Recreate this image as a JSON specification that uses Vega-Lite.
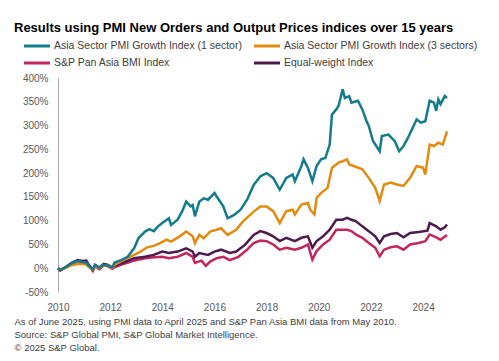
{
  "$schema": "https://vega.github.io/schema/vega-lite/v6.json",
  "width": 389,
  "height": 214,
  "autosize": {"type": "none"},
  "padding": {"left": 58, "top": 78, "right": 52, "bottom": 69},
  "background": "white",
  "config": {
    "view": {"stroke": null},
    "font": "Liberation Sans"
  },
  "title": {
    "text": "Results using PMI New Orders and Output Prices indices over 15 years",
    "anchor": "start",
    "frame": "group",
    "dx": -44,
    "fontSize": 13,
    "fontWeight": "bold",
    "color": "#000000",
    "offset": 3
  },
  "datasets": {
    "a1": [
      {"date": "2010-05-01", "value": 0}, {"date": "2010-06-01", "value": -4}, {"date": "2010-09-01", "value": 3}, {"date": "2010-11-01", "value": 10},
      {"date": "2011-02-01", "value": 15}, {"date": "2011-04-01", "value": 13}, {"date": "2011-06-01", "value": 12}, {"date": "2011-07-01", "value": 6},
      {"date": "2011-09-01", "value": -2}, {"date": "2011-10-01", "value": 6}, {"date": "2011-12-01", "value": 2}, {"date": "2012-02-01", "value": 7},
      {"date": "2012-04-01", "value": 5}, {"date": "2012-06-01", "value": 2}, {"date": "2012-07-01", "value": 12}, {"date": "2012-10-01", "value": 17},
      {"date": "2013-01-01", "value": 24}, {"date": "2013-04-01", "value": 42}, {"date": "2013-06-01", "value": 63}, {"date": "2013-09-01", "value": 77},
      {"date": "2013-11-01", "value": 82}, {"date": "2014-01-01", "value": 78}, {"date": "2014-03-01", "value": 88}, {"date": "2014-05-01", "value": 95},
      {"date": "2014-08-01", "value": 105}, {"date": "2014-09-01", "value": 91}, {"date": "2014-12-01", "value": 102}, {"date": "2015-02-01", "value": 119},
      {"date": "2015-04-01", "value": 140}, {"date": "2015-06-01", "value": 130}, {"date": "2015-07-01", "value": 133}, {"date": "2015-08-01", "value": 109},
      {"date": "2015-10-01", "value": 140}, {"date": "2015-12-01", "value": 147}, {"date": "2016-02-01", "value": 144}, {"date": "2016-05-01", "value": 158},
      {"date": "2016-07-01", "value": 144}, {"date": "2016-09-01", "value": 130}, {"date": "2016-11-01", "value": 105}, {"date": "2017-02-01", "value": 112},
      {"date": "2017-05-01", "value": 123}, {"date": "2017-08-01", "value": 144}, {"date": "2017-11-01", "value": 175}, {"date": "2018-02-01", "value": 193},
      {"date": "2018-05-01", "value": 200}, {"date": "2018-08-01", "value": 190}, {"date": "2018-11-01", "value": 165}, {"date": "2019-02-01", "value": 190},
      {"date": "2019-05-01", "value": 197}, {"date": "2019-06-01", "value": 183}, {"date": "2019-09-01", "value": 215}, {"date": "2019-10-01", "value": 229},
      {"date": "2019-12-01", "value": 211}, {"date": "2020-02-01", "value": 183}, {"date": "2020-04-01", "value": 215}, {"date": "2020-06-01", "value": 229},
      {"date": "2020-08-01", "value": 232}, {"date": "2020-10-01", "value": 260}, {"date": "2020-11-01", "value": 323}, {"date": "2021-01-01", "value": 334},
      {"date": "2021-02-01", "value": 341}, {"date": "2021-04-01", "value": 376}, {"date": "2021-05-01", "value": 358}, {"date": "2021-07-01", "value": 362},
      {"date": "2021-08-01", "value": 348}, {"date": "2021-11-01", "value": 352}, {"date": "2022-01-01", "value": 334}, {"date": "2022-03-01", "value": 309},
      {"date": "2022-04-01", "value": 299}, {"date": "2022-06-01", "value": 267}, {"date": "2022-09-01", "value": 246}, {"date": "2022-10-01", "value": 278},
      {"date": "2023-01-01", "value": 281}, {"date": "2023-04-01", "value": 267}, {"date": "2023-06-01", "value": 246}, {"date": "2023-08-01", "value": 257},
      {"date": "2023-10-01", "value": 274}, {"date": "2024-02-01", "value": 313}, {"date": "2024-04-01", "value": 306}, {"date": "2024-06-01", "value": 309},
      {"date": "2024-08-01", "value": 352}, {"date": "2024-10-01", "value": 348}, {"date": "2024-11-01", "value": 331}, {"date": "2024-12-01", "value": 355},
      {"date": "2025-01-01", "value": 345}, {"date": "2025-03-01", "value": 362}, {"date": "2025-04-01", "value": 358}
    ],
    "a3": [
      {"date": "2010-05-01", "value": 0}, {"date": "2010-06-01", "value": -4}, {"date": "2010-09-01", "value": 2}, {"date": "2010-11-01", "value": 6},
      {"date": "2011-02-01", "value": 9}, {"date": "2011-04-01", "value": 9}, {"date": "2011-06-01", "value": 8}, {"date": "2011-07-01", "value": 3},
      {"date": "2011-09-01", "value": -3}, {"date": "2011-10-01", "value": 5}, {"date": "2011-12-01", "value": 1}, {"date": "2012-02-01", "value": 6},
      {"date": "2012-04-01", "value": 5}, {"date": "2012-06-01", "value": 1}, {"date": "2012-07-01", "value": 7}, {"date": "2012-11-01", "value": 17},
      {"date": "2013-04-01", "value": 28}, {"date": "2013-07-01", "value": 35}, {"date": "2013-10-01", "value": 44}, {"date": "2014-01-01", "value": 47},
      {"date": "2014-04-01", "value": 53}, {"date": "2014-07-01", "value": 60}, {"date": "2014-09-01", "value": 56}, {"date": "2015-01-01", "value": 67},
      {"date": "2015-04-01", "value": 77}, {"date": "2015-07-01", "value": 67}, {"date": "2015-08-01", "value": 53}, {"date": "2015-10-01", "value": 70},
      {"date": "2015-12-01", "value": 63}, {"date": "2016-03-01", "value": 77}, {"date": "2016-06-01", "value": 81}, {"date": "2016-08-01", "value": 84},
      {"date": "2016-11-01", "value": 70}, {"date": "2017-03-01", "value": 81}, {"date": "2017-06-01", "value": 98}, {"date": "2017-11-01", "value": 119},
      {"date": "2018-02-01", "value": 130}, {"date": "2018-05-01", "value": 130}, {"date": "2018-08-01", "value": 120}, {"date": "2018-11-01", "value": 95},
      {"date": "2019-02-01", "value": 120}, {"date": "2019-05-01", "value": 123}, {"date": "2019-06-01", "value": 113}, {"date": "2019-09-01", "value": 134},
      {"date": "2019-12-01", "value": 137}, {"date": "2020-01-01", "value": 123}, {"date": "2020-03-01", "value": 113}, {"date": "2020-04-01", "value": 148},
      {"date": "2020-06-01", "value": 158}, {"date": "2020-09-01", "value": 169}, {"date": "2020-11-01", "value": 211}, {"date": "2021-02-01", "value": 222},
      {"date": "2021-04-01", "value": 225}, {"date": "2021-06-01", "value": 229}, {"date": "2021-07-01", "value": 218}, {"date": "2021-09-01", "value": 215},
      {"date": "2022-01-01", "value": 208}, {"date": "2022-04-01", "value": 190}, {"date": "2022-07-01", "value": 169}, {"date": "2022-09-01", "value": 141},
      {"date": "2022-11-01", "value": 176}, {"date": "2023-02-01", "value": 180}, {"date": "2023-05-01", "value": 176}, {"date": "2023-08-01", "value": 173},
      {"date": "2023-11-01", "value": 190}, {"date": "2024-02-01", "value": 215}, {"date": "2024-05-01", "value": 211}, {"date": "2024-06-01", "value": 197},
      {"date": "2024-08-01", "value": 260}, {"date": "2024-10-01", "value": 257}, {"date": "2024-12-01", "value": 264}, {"date": "2025-02-01", "value": 260},
      {"date": "2025-04-01", "value": 288}
    ],
    "bmi": [
      {"date": "2010-05-01", "value": 0}, {"date": "2010-06-01", "value": -5}, {"date": "2010-09-01", "value": 3}, {"date": "2010-11-01", "value": 9},
      {"date": "2011-02-01", "value": 15}, {"date": "2011-04-01", "value": 13}, {"date": "2011-06-01", "value": 14}, {"date": "2011-07-01", "value": 6},
      {"date": "2011-09-01", "value": -6}, {"date": "2011-10-01", "value": 4}, {"date": "2011-12-01", "value": -2}, {"date": "2012-02-01", "value": 6},
      {"date": "2012-04-01", "value": 4}, {"date": "2012-06-01", "value": -1}, {"date": "2012-07-01", "value": 2}, {"date": "2012-11-01", "value": 9},
      {"date": "2013-04-01", "value": 16}, {"date": "2013-09-01", "value": 21}, {"date": "2014-01-01", "value": 23}, {"date": "2014-05-01", "value": 24},
      {"date": "2014-08-01", "value": 21}, {"date": "2014-12-01", "value": 24}, {"date": "2015-04-01", "value": 32}, {"date": "2015-07-01", "value": 24},
      {"date": "2015-08-01", "value": 11}, {"date": "2015-11-01", "value": 16}, {"date": "2016-01-01", "value": 5}, {"date": "2016-03-01", "value": 14},
      {"date": "2016-06-01", "value": 21}, {"date": "2016-09-01", "value": 24}, {"date": "2016-12-01", "value": 17}, {"date": "2017-04-01", "value": 24},
      {"date": "2017-08-01", "value": 39}, {"date": "2017-11-01", "value": 53}, {"date": "2018-02-01", "value": 58}, {"date": "2018-05-01", "value": 57},
      {"date": "2018-08-01", "value": 50}, {"date": "2018-11-01", "value": 39}, {"date": "2019-02-01", "value": 43}, {"date": "2019-06-01", "value": 39},
      {"date": "2019-09-01", "value": 43}, {"date": "2019-12-01", "value": 50}, {"date": "2020-02-01", "value": 18}, {"date": "2020-04-01", "value": 36},
      {"date": "2020-07-01", "value": 50}, {"date": "2020-10-01", "value": 60}, {"date": "2021-01-01", "value": 81}, {"date": "2021-04-01", "value": 81},
      {"date": "2021-06-01", "value": 81}, {"date": "2021-08-01", "value": 78}, {"date": "2021-10-01", "value": 71}, {"date": "2022-01-01", "value": 64},
      {"date": "2022-04-01", "value": 53}, {"date": "2022-07-01", "value": 43}, {"date": "2022-09-01", "value": 25}, {"date": "2022-11-01", "value": 39},
      {"date": "2023-02-01", "value": 44}, {"date": "2023-05-01", "value": 46}, {"date": "2023-08-01", "value": 39}, {"date": "2023-11-01", "value": 50},
      {"date": "2024-03-01", "value": 53}, {"date": "2024-06-01", "value": 57}, {"date": "2024-08-01", "value": 71}, {"date": "2024-11-01", "value": 65},
      {"date": "2025-01-01", "value": 60}, {"date": "2025-04-01", "value": 70}
    ],
    "ew": [
      {"date": "2010-05-01", "value": 0}, {"date": "2010-06-01", "value": -4}, {"date": "2010-09-01", "value": 4}, {"date": "2010-11-01", "value": 11},
      {"date": "2011-02-01", "value": 17}, {"date": "2011-04-01", "value": 15}, {"date": "2011-06-01", "value": 16}, {"date": "2011-07-01", "value": 8},
      {"date": "2011-09-01", "value": -3}, {"date": "2011-10-01", "value": 7}, {"date": "2011-12-01", "value": 1}, {"date": "2012-02-01", "value": 9},
      {"date": "2012-04-01", "value": 7}, {"date": "2012-06-01", "value": 1}, {"date": "2012-07-01", "value": 5}, {"date": "2012-11-01", "value": 12},
      {"date": "2013-04-01", "value": 21}, {"date": "2013-09-01", "value": 24}, {"date": "2014-01-01", "value": 28}, {"date": "2014-05-01", "value": 35},
      {"date": "2014-08-01", "value": 32}, {"date": "2014-12-01", "value": 35}, {"date": "2015-04-01", "value": 42}, {"date": "2015-07-01", "value": 35},
      {"date": "2015-08-01", "value": 24}, {"date": "2015-10-01", "value": 32}, {"date": "2016-02-01", "value": 28}, {"date": "2016-05-01", "value": 35},
      {"date": "2016-08-01", "value": 39}, {"date": "2016-12-01", "value": 32}, {"date": "2017-03-01", "value": 35}, {"date": "2017-07-01", "value": 49},
      {"date": "2017-11-01", "value": 70}, {"date": "2018-02-01", "value": 78}, {"date": "2018-05-01", "value": 74}, {"date": "2018-08-01", "value": 67},
      {"date": "2018-11-01", "value": 57}, {"date": "2019-02-01", "value": 64}, {"date": "2019-06-01", "value": 57}, {"date": "2019-09-01", "value": 64},
      {"date": "2019-12-01", "value": 67}, {"date": "2020-02-01", "value": 43}, {"date": "2020-04-01", "value": 57}, {"date": "2020-07-01", "value": 67},
      {"date": "2020-10-01", "value": 81}, {"date": "2021-01-01", "value": 102}, {"date": "2021-04-01", "value": 102}, {"date": "2021-06-01", "value": 106},
      {"date": "2021-08-01", "value": 102}, {"date": "2021-10-01", "value": 99}, {"date": "2022-01-01", "value": 88}, {"date": "2022-04-01", "value": 78},
      {"date": "2022-07-01", "value": 67}, {"date": "2022-09-01", "value": 53}, {"date": "2022-11-01", "value": 67}, {"date": "2023-02-01", "value": 72},
      {"date": "2023-05-01", "value": 74}, {"date": "2023-08-01", "value": 65}, {"date": "2023-11-01", "value": 74}, {"date": "2024-03-01", "value": 76},
      {"date": "2024-07-01", "value": 79}, {"date": "2024-08-01", "value": 95}, {"date": "2024-11-01", "value": 88}, {"date": "2025-01-01", "value": 81},
      {"date": "2025-03-01", "value": 86}, {"date": "2025-04-01", "value": 92}
    ]
  },
  "encoding": {
    "x": {
      "field": "date",
      "type": "temporal",
      "scale": {"type": "utc", "domain": [{"year": 2010, "month": 5, "date": 1, "utc": true}, {"year": 2025, "month": 4, "date": 1, "utc": true}]},
      "axis": {
        "values": [
          {"year": 2010, "month": 5, "date": 1, "utc": true}, {"year": 2012, "month": 5, "date": 1, "utc": true},
          {"year": 2014, "month": 5, "date": 1, "utc": true}, {"year": 2016, "month": 5, "date": 1, "utc": true},
          {"year": 2018, "month": 5, "date": 1, "utc": true}, {"year": 2020, "month": 5, "date": 1, "utc": true},
          {"year": 2022, "month": 5, "date": 1, "utc": true}, {"year": 2024, "month": 5, "date": 1, "utc": true}
        ],
        "labelExpr": "utcFormat(datum.value, '%Y')",
        "domain": false,
        "ticks": false,
        "grid": false,
        "labelPadding": 10,
        "labelFontSize": 10,
        "labelColor": "#595959",
        "labelFlush": false,
        "title": [
          "As of June 2025, using PMI data to April 2025 and S&P Pan Asia BMI data from May 2010.",
          "Source: S&P Global PMI, S&P Global Market Intelligence.",
          "© 2025 S&P Global."
        ],
        "titleFontSize": 9.5,
        "titleFontWeight": "normal",
        "titleColor": "#404040",
        "titleAlign": "left",
        "titleAnchor": "start",
        "titleBaseline": "top",
        "titleLineHeight": 13,
        "titleX": -44,
        "titleY": 24
      }
    },
    "y": {
      "field": "value",
      "type": "quantitative",
      "scale": {"domain": [-50, 400], "nice": false, "zero": false},
      "axis": {
        "values": [-50, 0, 50, 100, 150, 200, 250, 300, 350, 400],
        "labelExpr": "datum.value + '%'",
        "domainColor": "#A6A6A6",
        "ticks": false,
        "grid": false,
        "labelPadding": 10,
        "labelFontSize": 10,
        "labelColor": "#595959",
        "title": null
      }
    },
    "color": {
      "scale": {
        "domain": ["Asia Sector PMI Growth Index (1 sector)", "Asia Sector PMI Growth Index (3 sectors)", "S&P Pan Asia BMI Index", "Equal-weight Index"],
        "range": ["#137B8C", "#E38A11", "#C4255C", "#4D1A50"]
      },
      "legend": {
        "orient": "none",
        "legendX": -29,
        "legendY": -40,
        "direction": "horizontal",
        "columns": 2,
        "title": null,
        "symbolType": "M-2,0H2",
        "symbolSize": 169,
        "symbolStrokeWidth": 3,
        "labelFontSize": 10.5,
        "labelColor": "#404040",
        "labelOffset": 9,
        "columnPadding": 6,
        "rowPadding": 3,
        "labelLimit": 300
      }
    }
  },
  "layer": [
    {"mark": {"type": "rule", "color": "#A6A6A6", "strokeWidth": 1}, "encoding": {"y": {"datum": 0}, "color": {"value": "#A6A6A6"}}, "data": {"values": [{}]}},
    {"data": {"name": "bmi"}, "mark": {"type": "line", "strokeWidth": 2.5}, "encoding": {"color": {"datum": "S&P Pan Asia BMI Index"}}},
    {"data": {"name": "ew"}, "mark": {"type": "line", "strokeWidth": 2.5}, "encoding": {"color": {"datum": "Equal-weight Index"}}},
    {"data": {"name": "a3"}, "mark": {"type": "line", "strokeWidth": 2.5}, "encoding": {"color": {"datum": "Asia Sector PMI Growth Index (3 sectors)"}}},
    {"data": {"name": "a1"}, "mark": {"type": "line", "strokeWidth": 2.5}, "encoding": {"color": {"datum": "Asia Sector PMI Growth Index (1 sector)"}}}
  ]
}
